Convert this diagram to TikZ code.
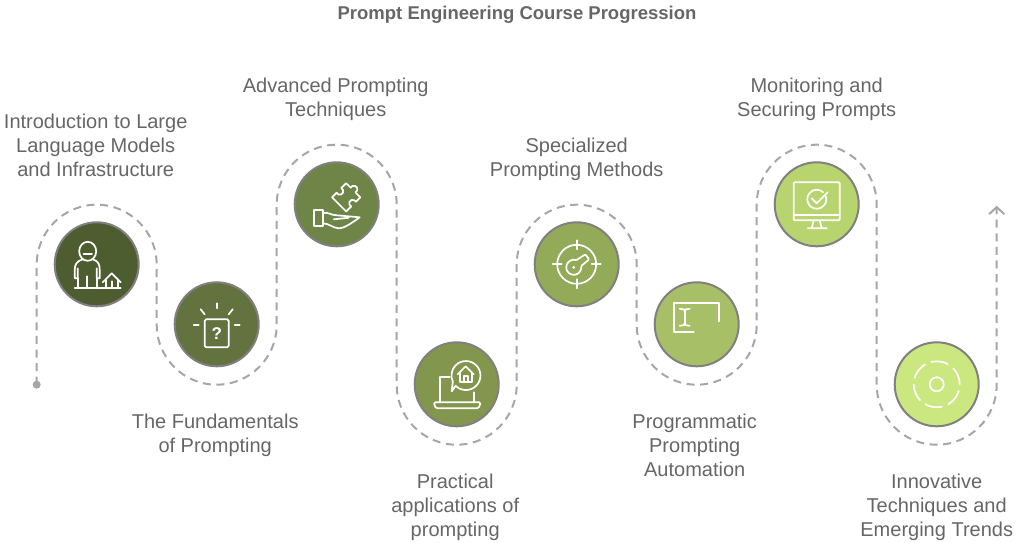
\documentclass[tikz,border=0pt]{standalone}
\usepackage{fontspec}
\setmainfont{Liberation Sans}
\usepackage{xcolor}
\usetikzlibrary{arrows.meta, positioning}
\definecolor{textgray}{HTML}{666666}
\definecolor{trailgray}{HTML}{A6A6A6}
\definecolor{ringgray}{HTML}{808080}
\begin{document}
\begin{tikzpicture}[
    x=1pt, y=1pt,
    stepcircle/.style={
        draw=ringgray, circle, line width=2pt, inner sep=0pt, minimum size=84pt
    },
    steplabel/.style={
        align=center, inner sep=0pt, text=textgray,
        font=\fontsize{20}{24}\selectfont
    },
    trail/.style={
        draw=trailgray, line width=2pt, dash pattern=on 8pt off 5.6pt,
        -{Straight Barb[length=7pt,width=15pt,line width=2pt]}
    },
    iconline/.style={
        draw=white, line width=1.7pt, line cap=round, line join=round
    }
]
    \useasboundingbox (0,0) rectangle (1019,542);

    \node[font=\fontsize{18.5}{20}\selectfont\bfseries, text=textgray, inner sep=0pt] (Title) at (517,527.3) {Prompt Engineering Course Progression};

    \node[stepcircle, fill={rgb,255:red,78;green,93;blue,48}] (Intro) at (96.7,277.7) {};
    \node[stepcircle, fill={rgb,255:red,99;green,115;blue,64}] (Fundamentals) at (216.7,217.7) {};
    \node[stepcircle, fill={rgb,255:red,111;green,133;blue,72}] (Advanced) at (336.7,337.7) {};
    \node[stepcircle, fill={rgb,255:red,130;green,150;blue,78}] (Practical) at (456.7,157.7) {};
    \node[stepcircle, fill={rgb,255:red,147;green,170;blue,88}] (Specialized) at (576.7,277.7) {};
    \node[stepcircle, fill={rgb,255:red,167;green,192;blue,104}] (Programmatic) at (696.7,217.7) {};
    \node[stepcircle, fill={rgb,255:red,184;green,212;blue,111}] (Monitoring) at (816.7,337.7) {};
    \node[stepcircle, fill={rgb,255:red,203;green,232;blue,128}] (Innovative) at (936.7,157.7) {};

    \node[steplabel, above=44.3pt of Intro, xshift=-1pt] (IntroText) {Introduction to Large\\Language Models\\and Infrastructure};
    \node[steplabel, below=46.7pt of Fundamentals, xshift=-1.5pt] (FundamentalsText) {The Fundamentals\\of Prompting};
    \node[steplabel, above=40.5pt of Advanced, xshift=-1pt] (AdvancedText) {Advanced Prompting\\Techniques};
    \node[steplabel, below=46.7pt of Practical, xshift=-1.5pt] (PracticalText) {Practical\\applications of\\prompting};
    \node[steplabel, above=40.5pt of Specialized] (SpecializedText) {Specialized\\Prompting Methods};
    \node[steplabel, below=46.7pt of Programmatic, xshift=-2pt] (ProgrammaticText) {Programmatic\\Prompting\\Automation};
    \node[steplabel, above=40.5pt of Monitoring] (MonitoringText) {Monitoring and\\Securing Prompts};
    \node[steplabel, below=46.7pt of Innovative] (InnovativeText) {Innovative\\Techniques and\\Emerging Trends};

    \coordinate (Start) at (36.7,157.3);
    \coordinate (Finish) at (996.7,336.3);
    \fill[trailgray] (Start) circle[radius=4pt];
    \draw[trail] (Start) -- ++(0,120)
        arc[start angle=180, end angle=0, radius=60pt] -- ++(0,-60)
        arc[start angle=180, end angle=360, radius=60pt] -- ++(0,120)
        arc[start angle=180, end angle=0, radius=60pt] -- ++(0,-180)
        arc[start angle=180, end angle=360, radius=60pt] -- ++(0,120)
        arc[start angle=180, end angle=0, radius=60pt] -- ++(0,-60)
        arc[start angle=180, end angle=360, radius=60pt] -- ++(0,120)
        arc[start angle=180, end angle=0, radius=60pt] -- ++(0,-180)
        arc[start angle=180, end angle=360, radius=60pt] -- (Finish);

    \begin{scope}[shift={(Intro)}, iconline]
        \draw (-9,13) ellipse[x radius=8.5pt, y radius=9.5pt];
        \draw[line width=2.4pt] (-13,10.5) -- (-5,10.5);
        \draw (-14,5) .. controls (-20,3) and (-22,0) .. (-22,-6) -- (-22,-14) -- (-19,-14) -- (-19,-4);
        \draw (-4,5) .. controls (2,3) and (3,0) .. (3,-6) -- (3,-14) -- (0,-14) -- (0,-4);
        \draw (-19,-14) -- (-19,-24) (0,-14) -- (0,-24) (-9.5,-12) -- (-9.5,-24);
        \draw (-22,-24) -- (24,-24);
        \draw (6,-18) -- (15,-9) -- (24,-18);
        \draw (9,-15) -- (9,-24) (21,-15) -- (21,-24) (15,-17) -- (15,-24);
    \end{scope}

    \begin{scope}[shift={(Fundamentals)}, iconline]
        \draw[rounded corners=1.5pt] (-12,5) rectangle (12,-23);
        \node[text=white, font=\fontsize{17}{17}\selectfont\bfseries, inner sep=0pt] (FundamentalsMark) at (0,-9) {?};
        \draw (0,21) -- (0,16) (-23,-1) -- (-18,-1) (18,-1) -- (23,-1);
        \draw (-16,15) -- (-12,10) (16,15) -- (12,10);
    \end{scope}

    \begin{scope}[shift={(Advanced)}, iconline]
        \draw (-23,-6) rectangle (-14,-22);
        \draw (-14,-9) .. controls (-9,-7) and (-6,-11) .. (0,-11) -- (23,-13)
            .. controls (16,-18) and (8,-24) .. (2,-24)
            .. controls (-3,-24) and (-8,-19) .. (-14,-19);
        \draw (-3,-15) -- (12,-13.5);
        \begin{scope}[shift={(9.5,7)}, rotate=45]
            \draw (-10,-10) -- (-3,-10) arc[start angle=200, end angle=-20, radius=3.5pt]
                -- (10,-10) -- (10,-3) arc[start angle=250, end angle=470, radius=3.5pt]
                -- (10,10) -- (3,10) arc[start angle=20, end angle=-200, radius=3.5pt]
                -- (-10,10) -- cycle;
        \end{scope}
    \end{scope}

    \begin{scope}[shift={(Practical)}, iconline]
        \draw[rounded corners=1.5pt] (-23,-18) -- (24,-18) -- (22,-24) -- (-21,-24) -- cycle;
        \draw (-17,-18) -- (-17,7) -- (-7,7);
        \draw (17,-8) -- (17,-18);
        \draw (-1,-1.5) arc[start angle=-135, end angle=205, radius=14.5pt] -- (-5,-7) -- cycle;
        \draw (1,10) -- (9,18) -- (17,10);
        \draw (3,11) -- (3,2) -- (15,2) -- (15,11);
        \draw (7,2) -- (7,8) -- (11,8) -- (11,2);
    \end{scope}

    \begin{scope}[shift={(Specialized)}, iconline]
        \draw (0,0) circle[radius=19.5pt];
        \draw (0,24) -- (0,15) (0,-24) -- (0,-15) (-24,0) -- (-15,0) (24,0) -- (15,0);
        \draw[fill=none, rounded corners=1pt] (-0.4,4) arc[start angle=70, end angle=370, radius=7.5pt] -- (12.5,5) -- (8.5,10) -- cycle;
        \fill[white] (-3,-3) circle[radius=1.5pt];
    \end{scope}

    \begin{scope}[shift={(Programmatic)}, iconline]
        \draw (-3,-8) -- (-23,-8) -- (-23,21) -- (22,21) -- (22,3);
        \draw (-12,15) -- (-12,-1);
        \draw (-17,15.5) .. controls (-14,15.5) and (-12,15) .. (-12,13) .. controls (-12,15) and (-10,15.5) .. (-7,15.5);
        \draw (-17,-1.5) .. controls (-14,-1.5) and (-12,-1) .. (-12,1) .. controls (-12,-1) and (-10,-1.5) .. (-7,-1.5);
    \end{scope}

    \begin{scope}[shift={(Monitoring)}, iconline]
        \draw[rounded corners=1pt] (-23,22) rectangle (23,-16);
        \draw (-23,-11) -- (23,-11);
        \draw (-3,-16) -- (-5,-24) (3,-16) -- (5,-24) (-9,-24) -- (10,-24);
        \draw (6.5,12) arc[start angle=47, end angle=380, radius=9.5pt];
        \draw (-5,6) -- (0,1) -- (11,12);
    \end{scope}

    \begin{scope}[shift={(Innovative)}, iconline]
        \draw (0,0) circle[radius=7pt];
        \draw[dash pattern=on 18pt off 6pt, line cap=butt] (0,0) circle[radius=23pt];
    \end{scope}
\end{tikzpicture}
\end{document}
